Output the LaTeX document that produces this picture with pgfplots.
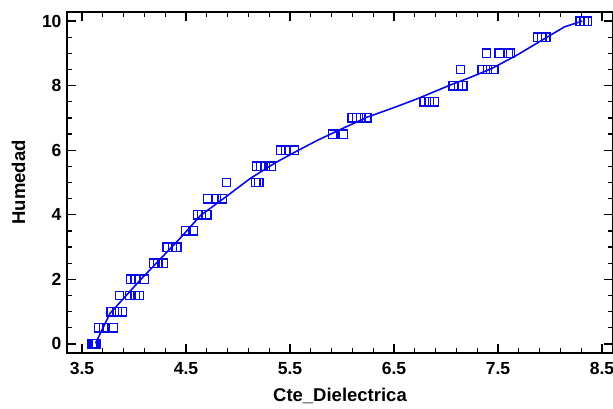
\documentclass[border=0pt]{standalone}
\usepackage{fontspec}
\setmainfont{Liberation Sans}
\usepackage{pgfplots}
\pgfplotsset{compat=1.18}
\definecolor{ptblue}{RGB}{10,10,230}
\begin{document}
\begin{tikzpicture}
\begin{axis}[
  at={(0pt,0pt)}, anchor=south west,
  scale only axis, width=546pt, height=341pt,
  xmin=3.356, xmax=8.606, ymin=-0.28, ymax=10.28,
  xtick={3.5,4.5,5.5,6.5,7.5,8.5}, ytick={0,2,4,6,8,10},
  xticklabels={3.5,4.5,5.5,6.5,7.5,8.5},
  minor x tick num=4, minor y tick num=3,
  tick align=inside,
  major tick length=9pt, minor tick length=5pt,
  axis line style={line width=1.5pt},
  every tick/.style={black, line width=1.2pt},
  /pgf/number format/assume math mode=true,
  tick label style={font=\fontsize{17.5}{20}\selectfont\bfseries},
  xticklabel style={yshift=-6pt},
  yticklabel style={xshift=-2pt},
  label style={font=\fontsize{18.5}{22}\selectfont\bfseries},
  xlabel={Cte\_Dielectrica},
  ylabel={Humedad},
  xlabel style={at={(axis description cs:0.5,-0.1408)}, anchor=base},
  ylabel style={at={(axis description cs:-0.0769,0.5)}, anchor=base, rotate=0},
]
\addplot[only marks, mark=square, mark size=4.2pt, ptblue, mark options={line width=1.4pt, fill=none}] table {
x y
3.60 0
3.61 0
3.62 0
3.63 0
3.64 0
3.66 0.5
3.71 0.5
3.80 0.5
3.78 1
3.84 1
3.89 1
3.86 1.5
3.96 1.5
4.01 1.5
4.05 1.5
3.97 2
4.01 2
4.10 2
4.19 2.5
4.23 2.5
4.28 2.5
4.32 3
4.37 3
4.41 3
4.50 3.5
4.57 3.5
4.61 4
4.65 4
4.70 4
4.71 4.5
4.79 4.5
4.85 4.5
4.89 5
5.17 5
5.20 5
5.18 5.5
5.22 5.5
5.26 5.5
5.32 5.5
5.41 6
5.46 6
5.54 6
5.91 6.5
6.01 6.5
6.10 7
6.14 7
6.18 7
6.24 7
6.79 7.5
6.84 7.5
6.89 7.5
7.07 8
7.12 8
7.16 8
7.14 8.5
7.35 8.5
7.40 8.5
7.46 8.5
7.39 9
7.51 9
7.60 9
7.62 9
7.88 9.5
7.92 9.5
7.96 9.5
8.29 10
8.33 10
8.36 10
};
\addplot[ptblue, line width=1.6pt, no marks] table {
x y
3.63 0.02
3.77 0.95
4.06 1.98
4.44 3.26
4.64 3.98
4.86 4.50
5.12 5.13
5.37 5.63
5.57 5.98
5.76 6.30
5.97 6.62
6.24 7.02
6.50 7.32
6.73 7.60
7.05 8.03
7.23 8.25
7.44 8.53
7.68 8.94
7.94 9.44
8.14 9.82
8.31 10.0
};
\end{axis}
\pgfresetboundingbox
\useasboundingbox (-67pt,-55pt) rectangle (546pt,353pt);
\end{tikzpicture}
\end{document}
